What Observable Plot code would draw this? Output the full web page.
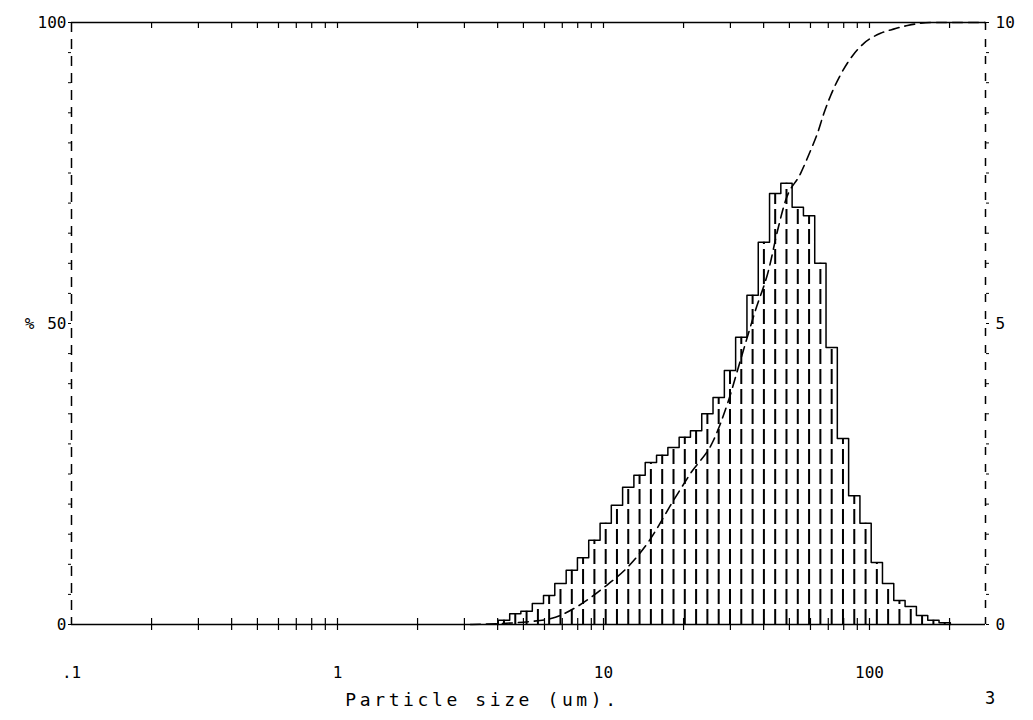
<!DOCTYPE html>
<html><head><meta charset="utf-8">
<script src="https://cdn.jsdelivr.net/npm/d3@7"></script>
<script src="https://cdn.jsdelivr.net/npm/@observablehq/plot@0.6"></script>
<style>
body{margin:0;background:#fff;}
#chart{position:relative;width:1033px;height:720px;}
#note{position:absolute;left:985px;top:688px;font:17px "DejaVu Sans Mono",monospace;color:#000;}
</style></head><body><div id="chart"></div>
<script>
// Histogram channel edges (µm) and percent in each channel (right axis, 0–10)
const binEdges = [4.02, 4.44, 4.89, 5.40, 5.95, 6.56, 7.24, 7.98, 8.80, 9.71, 10.70, 11.80, 13.01, 14.35, 15.83, 17.46, 19.25, 21.23, 23.41, 25.81, 28.47, 31.39, 34.62, 38.18, 42.10, 46.42, 51.19, 56.45, 62.25, 68.65, 75.70, 83.48, 92.06, 101.5, 111.9, 123.4, 136.1, 150.1, 165.6, 182.6, 201.4];
const binPercent = [0.07, 0.18, 0.22, 0.35, 0.48, 0.68, 0.90, 1.11, 1.40, 1.68, 1.98, 2.28, 2.48, 2.69, 2.81, 2.94, 3.11, 3.22, 3.50, 3.77, 4.22, 4.77, 5.47, 6.35, 7.16, 7.33, 6.93, 6.79, 6.00, 4.60, 3.09, 2.14, 1.68, 1.03, 0.68, 0.40, 0.30, 0.15, 0.07, 0.03];
// Cumulative curve (left axis, 0–100 %)
const cumSize = [3.16, 5.32, 6.60, 7.98, 10.0, 12.31, 14.64, 18.33, 21.24, 25.92, 29.26, 32.73, 37.27, 41.72, 45.10, 48.33, 55.04, 60.0, 63.75, 67.15, 71.35, 77.8, 87.1, 95.0, 110.0, 123.1, 139.0, 169.6, 273];
const cumPercent = [0.0, 0.5, 1.2, 3.0, 6.1, 9.5, 13.5, 20.6, 25.1, 30.6, 36.7, 43.9, 52.2, 58.8, 65.4, 70.4, 74.9, 78.7, 81.6, 84.7, 87.8, 91.3, 94.7, 96.5, 98.2, 98.9, 99.5, 100, 100];
// Axes
const xDomain = [0.1, 273];
const xTickValues = [0.1, 1, 10, 100];
const xTickLabels = [".1", "1", "10", "100"];
const leftTickValues = [0, 50, 100];
const leftTickLabels = ["0", "50", "100"];
const rightTickLabels = ["0", "5", "10"];
const xTitle = "Particle size (um).";
const yTitle = "%";

const bins = binPercent.map((p, i) => ({
  x1: binEdges[i], x2: binEdges[i + 1],
  xc: Math.sqrt(binEdges[i] * binEdges[i + 1]),
  y: p * 10
}));
const outline = [{x: bins[0].x1, y: 0}]
  .concat(bins.map(b => ({x: b.x1, y: b.y})))
  .concat([{x: bins[bins.length - 1].x2, y: bins[bins.length - 1].y}, {x: bins[bins.length - 1].x2, y: 0}]);
const cum = cumSize.map((s, i) => ({x: s, y: cumPercent[i]}));
const minor = [];
for (let k = -1; k <= 2; k++) for (let d = 1; d <= 9; d++) {
  const v = d * Math.pow(10, k);
  if (v > xDomain[0] * 1.0001 && v < xDomain[1]) minor.push(+v.toPrecision(3));
}
const yMinor = d3.range(0, 101, 5);
const xLabelData = xTickValues.map((v, i) => ({v, t: xTickLabels[i]}));

const chart = Plot.plot({
  width: 1033, height: 720,
  marginTop: 22, marginBottom: 96, marginLeft: 71, marginRight: 48,
  x: {type: "log", domain: xDomain, axis: null},
  y: {domain: [0, 100]},
  style: {fontFamily: "'DejaVu Sans Mono', monospace", fontSize: "16px", color: "black", background: "white"},
  marks: [
    // frame
    Plot.ruleY([0], {stroke: "black", strokeWidth: 1.6}),
    Plot.ruleY([100], {stroke: "black", strokeWidth: 1.6}),
    Plot.ruleX([xDomain[0]], {stroke: "black", strokeWidth: 1.5, strokeDasharray: "10,7"}),
    Plot.ruleX([xDomain[1]], {stroke: "black", strokeWidth: 1.5, strokeDasharray: "8,9"}),
    // minor ticks
    Plot.ruleX(minor, {y1: -1, y2: 1, stroke: "black", strokeWidth: 1.2}),
    Plot.ruleX(minor, {y1: 100, y2: 99, stroke: "black", strokeWidth: 1.2}),
    Plot.axisY({anchor: "left", ticks: yMinor, tickSize: 3, tickFormat: () => "", label: null}),
    Plot.axisY({anchor: "right", ticks: yMinor, tickSize: 3, tickFormat: () => "", label: null}),
    // histogram
    Plot.ruleX(bins, {x: "xc", y1: 0, y2: "y", stroke: "black", strokeWidth: 2, strokeDasharray: "15,5"}),
    Plot.line(outline, {x: "x", y: "y", curve: "step-after", stroke: "black", strokeWidth: 1.5}),
    // cumulative
    Plot.line(cum, {x: "x", y: "y", curve: "monotone-x", stroke: "black", strokeWidth: 1.6, strokeDasharray: "10,6"}),
    // axis labels
    Plot.text(xLabelData, {x: "v", text: "t", frameAnchor: "bottom", dy: 53}),
    Plot.axisY({anchor: "left", ticks: leftTickValues, tickFormat: (d, i) => leftTickLabels[i], tickSize: 0, tickPadding: 5, label: null}),
    Plot.axisY({anchor: "right", ticks: leftTickValues, tickFormat: (d, i) => rightTickLabels[i], tickSize: 0, tickPadding: 10, label: null}),
    Plot.text([xTitle], {text: d => d, frameAnchor: "bottom", dy: 81, dx: -46, fontSize: 18}),
    Plot.text([yTitle], {text: d => d, frameAnchor: "left", dx: -37, textAnchor: "end"})
  ]
});
document.getElementById("chart").appendChild(chart);
d3.select(chart).selectAll("text").filter(function () { return this.textContent === xTitle; })
  .style("letter-spacing", "3.6px");
const note = document.createElement("div");
note.id = "note";
note.textContent = "3";
document.getElementById("chart").appendChild(note);
</script>
</body></html>
